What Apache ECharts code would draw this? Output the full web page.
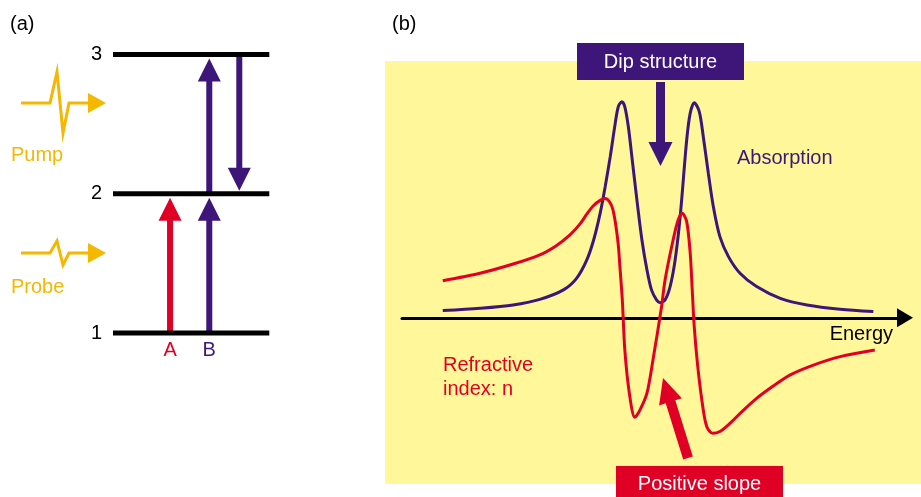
<!DOCTYPE html>
<html><head><meta charset="utf-8">
<script src="https://cdn.jsdelivr.net/npm/echarts@6/dist/echarts.min.js"></script>
<style>html,body{margin:0;padding:0;background:#fff}#c{width:921px;height:497px}</style>
</head><body><div id="c"></div>
<script>
// ---------------- data ----------------
// (a) energy levels and transitions
const levelValues = [1, 2, 3];
const transitionFrom = [1, 1, 2, 3];
const transitionTo = [2, 2, 3, 2];
const transitionLabels = ['A', 'B', '', ''];
// (b) spectra (energy in arbitrary units 0..100)
const absorptionX = [8.1,15.5,22.1,27.4,32.1,34.7,36.7,38.1,39.4,40.4,41.4,42.4,43.0,43.7,44.3,45.0,45.7,46.7,47.7,48.7,49.6,50.6,51.3,52.3,53.3,54.3,55.3,56.6,57.3,58.1,59.1,59.9,60.9,61.9,63.2,64.9,67.2,70.5,75.2,80.5,87.1,93.7];
const absorptionY = [2.8,3.7,5.0,7.2,10.9,15.4,22.4,30.4,40.9,51.3,63.0,76.1,82.5,84.5,82.5,74.7,63.0,46.1,30.4,18.7,10.9,7.0,5.9,7.0,12.2,22.6,39.5,69.5,80.0,84.1,80.6,70.8,56.5,43.4,31.7,23.9,17.4,12.2,7.6,5.0,3.3,2.4];
const refractiveX = [8.1,15.5,22.1,27.4,30.6,33.4,35.4,36.7,38.0,39.4,40.4,41.2,41.9,42.5,43.0,43.3,43.8,44.3,45.2,46.3,47.3,48.7,50.0,51.6,52.3,53.9,54.9,55.7,56.6,57.3,57.7,58.1,58.8,59.8,60.6,61.8,63.2,65.2,67.9,70.5,73.8,77.1,81.8,87.1,94.0];
const refractiveY = [14.5,17.4,21.0,24.6,28.1,32.4,36.7,40.4,43.7,45.9,46.6,45.5,42.5,36.3,28.5,20.6,7.0,-12.6,-29.5,-38.9,-36.1,-29.5,-15.2,4.3,14.8,30.4,38.2,40.9,37.6,25.2,10.9,-3.5,-19.1,-34.8,-42.6,-45.2,-44.5,-41.3,-36.1,-31.5,-26.7,-22.4,-18.5,-15.2,-12.6];

// ---------------- layout / style ----------------
const FONT = '"Liberation Sans", Arial, Helvetica, sans-serif';
const PURPLE = '#3e1679', RED = '#e10025', YELLOW = '#fff799', ORANGE = '#f5b700';
const transitionColumns = [36.5, 61.6, 61.6, 80.8];
const transitionColors = [RED, PURPLE, PURPLE, PURPLE];

function txt(text, x, y, color, align) {
  return { type: 'text', z: 100, style: { text: text, x: x, y: y, fill: color, font: '20px ' + FONT,
    align: align || 'left', verticalAlign: 'middle', textAlign: align || 'left', textVerticalAlign: 'middle' } };
}
function pulse(points, head, color) {
  return [
    { type: 'polyline', z: 100, shape: { points: points }, style: { stroke: color, lineWidth: 3, fill: null, lineJoin: 'miter' } },
    { type: 'polygon', z: 100, shape: { points: head }, style: { fill: color } }
  ];
}

const chart = echarts.init(document.getElementById('c'), null, { renderer: 'canvas' });

const option = {
  backgroundColor: '#fff',
  animation: false,
  textStyle: { fontFamily: FONT },
  grid: [
    { left: 113, width: 156.3, top: 54.5, height: 278.5 },
    { left: 402, right: 16, top: 62, bottom: 13 }
  ],
  xAxis: [
    { gridIndex: 0, type: 'value', min: 0, max: 100, show: false },
    { gridIndex: 1, type: 'value', min: 0, max: 100,
      axisLine: { show: true, onZero: true, symbol: ['none', 'triangle'], symbolSize: [19, 16],
        lineStyle: { color: '#000', width: 3 } },
      axisTick: { show: false }, axisLabel: { show: false }, splitLine: { show: false } }
  ],
  yAxis: [
    { gridIndex: 0, type: 'value', min: 1, max: 3, interval: 1,
      axisLine: { show: false }, axisTick: { show: false }, splitLine: { show: false },
      axisLabel: { color: '#000', fontSize: 20, fontFamily: FONT, margin: 11, padding: [7, 0, 0, 0] } },
    { gridIndex: 1, type: 'value', min: -65, max: 100, show: false, splitLine: { show: false } }
  ],
  graphic: [
    { type: 'rect', z: -10, shape: { x: 385, y: 61, width: 536, height: 423 }, style: { fill: YELLOW } },
    txt('(a)', 10, 24, '#000'),
    txt('(b)', 392, 24, '#000'),
    txt('Pump', 11, 155, ORANGE),
    txt('Probe', 11, 287, ORANGE),
    ...pulse([[21,103],[50,103],[57,72],[63,133],[69,103],[90,103]], [[88,93],[106,103],[88,113]], ORANGE),
    ...pulse([[21,253],[50,253],[57,241],[63,265],[69,253],[90,253]], [[88,243],[106,253],[88,263]], ORANGE),
    // Dip structure annotation
    { type: 'rect', z: 100, shape: { x: 577, y: 43, width: 167, height: 37 }, style: { fill: PURPLE } },
    txt('Dip structure', 660.5, 62, '#fff', 'center'),
    { type: 'polygon', z: 100, shape: { points: [[656,82],[665,82],[665,142],[672.5,142],[660.5,166],[648.5,142],[656,142]] }, style: { fill: PURPLE } },
    // Positive slope annotation
    { type: 'rect', z: 100, shape: { x: 616, y: 466, width: 167, height: 40 }, style: { fill: RED } },
    txt('Positive slope', 699.5, 484, '#fff', 'center'),
    { type: 'polygon', z: 100, shape: { points: [[683.2,459.5],[665.7,403.3],[659.1,405.4],[663,378],[681.9,398.2],[675.3,400.3],[692.8,456.5]] }, style: { fill: RED } },
    txt('Absorption', 737, 158, PURPLE),
    txt('Refractive', 443, 365, RED),
    txt('index: n', 443, 389, RED),
    txt('Energy', 893, 334, '#000', 'right')
  ],
  series: [
    {
      type: 'custom', name: 'transitions', xAxisIndex: 0, yAxisIndex: 0, clip: false, z: 3,
      data: transitionFrom.map((f, i) => [transitionColumns[i], f, transitionTo[i]]),
      encode: { x: 0, y: [1, 2] },
      renderItem: function (params, api) {
        const i = params.dataIndex;
        const col = api.value(0), from = api.value(1), to = api.value(2);
        const p0 = api.coord([col, from]);
        const p1 = api.coord([col, to]);
        const dir = p1[1] < p0[1] ? -1 : 1;
        const x = p0[0];
        const tipY = p1[1] - dir * (dir < 0 ? 4 : 3);
        const baseY = tipY - dir * 23;
        const color = transitionColors[i];
        const children = [{
          type: 'polygon',
          shape: { points: [[x-3,p0[1]],[x+3,p0[1]],[x+3,baseY],[x+11.5,baseY],[x,tipY],[x-11.5,baseY],[x-3,baseY]] },
          style: { fill: color }
        }];
        if (transitionLabels[i]) {
          children.push({ type: 'text', style: { text: transitionLabels[i], x: x, y: p0[1] + 17, fill: color,
            font: '20px ' + FONT, align: 'center', verticalAlign: 'middle' } });
        }
        return { type: 'group', children: children };
      }
    },
    {
      type: 'custom', name: 'levels', xAxisIndex: 0, yAxisIndex: 0, clip: false, z: 4,
      data: levelValues.map(v => [0, v]),
      encode: { x: 0, y: 1 },
      renderItem: function (params, api) {
        const cs = params.coordSys;
        const y = api.coord([0, api.value(1)])[1];
        return { type: 'line', shape: { x1: cs.x, y1: y, x2: cs.x + cs.width, y2: y },
          style: { stroke: '#000', lineWidth: 5 } };
      }
    },
    {
      type: 'line', name: 'Absorption', xAxisIndex: 1, yAxisIndex: 1,
      data: absorptionX.map((x, i) => [x, absorptionY[i]]),
      smooth: 0.3, showSymbol: false, clip: false, z: 3,
      lineStyle: { color: PURPLE, width: 3 }
    },
    {
      type: 'line', name: 'Refractive index', xAxisIndex: 1, yAxisIndex: 1,
      data: refractiveX.map((x, i) => [x, refractiveY[i]]),
      smooth: 0.3, showSymbol: false, clip: false, z: 3,
      lineStyle: { color: RED, width: 3 }
    }
  ]
};
chart.setOption(option);
</script>
</body></html>
